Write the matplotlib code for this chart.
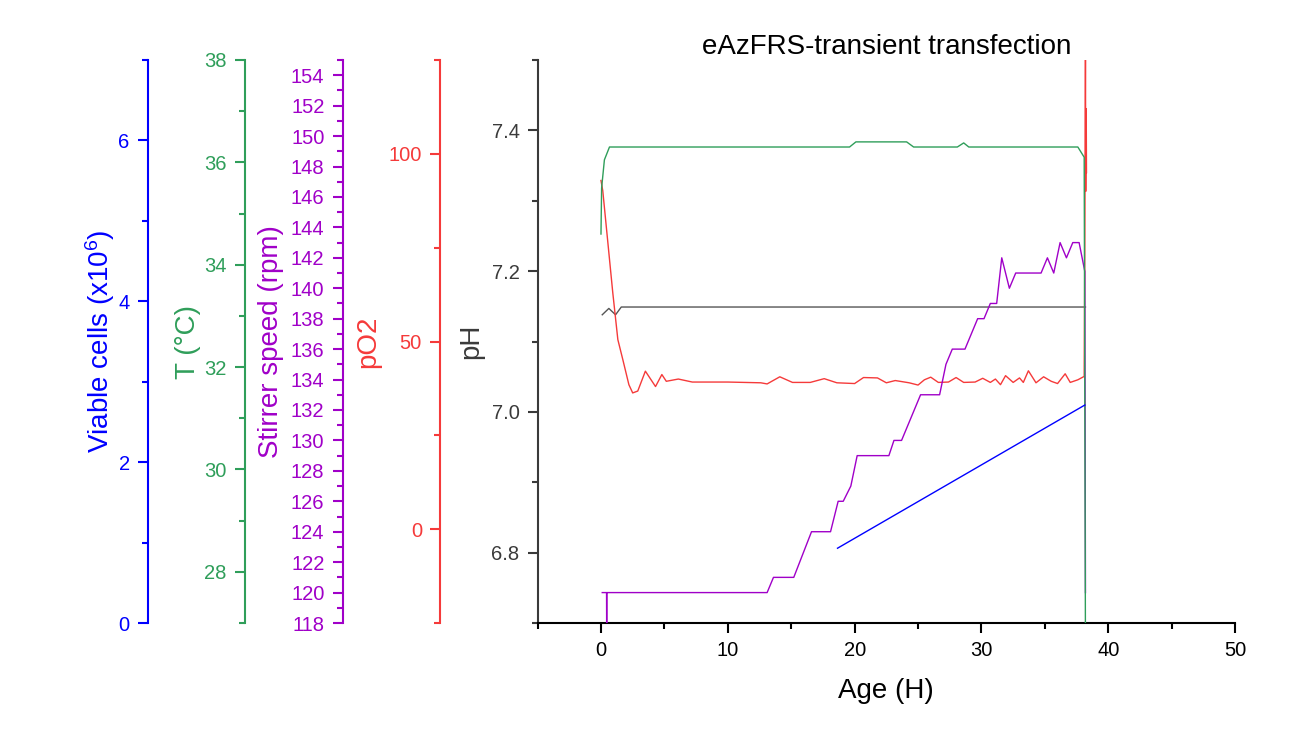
import matplotlib
matplotlib.use("Agg")
import matplotlib.pyplot as plt
from matplotlib.ticker import MultipleLocator

plt.rcParams['font.family'] = ['Liberation Sans', 'DejaVu Sans']
plt.rcParams['mathtext.fontset'] = 'custom'
plt.rcParams['mathtext.rm'] = 'Liberation Sans'
plt.rcParams['mathtext.default'] = 'regular'

# pH (main axis)
ph_time = [0.1, 0.62, 1.15, 1.6, 38.2]
ph_vals = [7.138, 7.147, 7.138, 7.149, 7.149]

# pO2
o2_time = [0.0, 0.14, 0.93, 1.33, 1.72, 2.2, 2.5, 2.9, 3.5, 4.3, 4.8, 5.15, 6.1, 7.2,
           10.0, 12.6, 13.1, 14.1, 15.1, 16.5, 17.6, 18.6, 20.0, 20.7, 21.8, 22.5,
           23.2, 24.3, 25.0, 25.5, 26.0, 26.6, 27.4, 28.0, 28.6, 29.5, 30.1, 30.7,
           31.1, 31.5, 31.9, 32.5, 33.0, 33.3, 33.7, 34.3, 34.9, 35.5, 36.0, 36.6,
           37.0, 37.6, 38.1, 38.15, 38.2, 38.22, 38.26, 38.28]
o2_vals = [92.9, 90.2, 63.0, 50.5, 45.2, 38.5, 36.3, 36.8, 42.1, 38.0, 41.2, 39.4, 40.0, 39.2,
           39.2, 39.0, 38.7, 40.6, 39.1, 39.1, 40.1, 39.0, 38.8, 40.4, 40.3, 39.0,
           39.6, 39.0, 38.4, 39.8, 40.5, 39.1, 39.2, 40.4, 39.1, 39.2, 40.2, 39.1,
           40.0, 38.5, 40.9, 39.1, 40.3, 39.1, 42.2, 39.0, 40.6, 39.4, 38.8, 41.4,
           39.1, 39.8, 40.7, 75.0, 128.0, 90.0, 112.0, 95.0]

# stirrer speed (rpm)
st_time = [0.1, 0.44, 0.45, 0.46, 13.1, 13.6, 15.2, 16.6, 18.1, 18.7, 19.1, 19.7, 20.2,
           22.7, 23.1, 23.7, 25.2, 26.7, 27.2, 27.7, 28.7, 29.7, 30.2, 30.7, 31.2,
           31.6, 32.2, 32.7, 34.7, 35.2, 35.7, 36.2, 36.7, 37.2, 37.7, 38.15, 38.2]
st_vals = [120, 120, 117, 120, 120, 121, 121, 124, 124, 126, 126, 127, 129,
           129, 130, 130, 133, 133, 135, 136, 136, 138, 138, 139, 139,
           142, 140, 141, 141, 142, 141, 143, 142, 143, 143, 141.1, 120]

# temperature (°C)
t_time = [0.0, 0.05, 0.27, 0.67, 19.6, 20.1, 24.1, 24.65, 28.1, 28.6, 29.0, 37.6, 38.1, 38.2]
t_vals = [34.6, 35.5, 36.05, 36.3, 36.3, 36.4, 36.4, 36.3, 36.3, 36.38, 36.3, 36.3, 36.1, 26.5]

# viable cells (x10^6)
cells_time = [18.65, 38.15]
cells_vals = [0.93, 2.71]

GRAY = '#3a3a3a'
RED = '#f53a3a'
PURPLE = '#a000c8'
GREEN = '#2f9e5a'
BLUE = '#0000ff'

fig = plt.figure(figsize=(13.07, 7.49), dpi=100)
ax = fig.add_axes([0.4113, 0.1682, 0.5337, 0.7517])
ax.set_xlim(-5, 50)
ax.set_ylim(6.7, 7.5)
for s in ('top', 'right'):
    ax.spines[s].set_visible(False)
ax.spines['bottom'].set_linewidth(1.5)
ax.spines['left'].set_linewidth(1.5)
ax.spines['left'].set_color(GRAY)
ax.xaxis.set_major_locator(MultipleLocator(10))
ax.xaxis.set_minor_locator(MultipleLocator(5))
ax.yaxis.set_major_locator(MultipleLocator(0.2))
ax.yaxis.set_minor_locator(MultipleLocator(0.1))
ax.tick_params(which='major', length=7, width=1.5, labelsize=14.5, pad=6)
ax.tick_params(which='minor', length=4, width=1.5)
ax.tick_params(axis='y', which='both', colors=GRAY)
ax.set_xlabel('Age (H)', fontsize=20, labelpad=13)
ax.set_ylabel('pH', fontsize=20, color=GRAY, labelpad=5)
ax.set_title('eAzFRS-transient transfection', fontsize=20, y=1.0, pad=4)
ax.plot(ph_time, ph_vals, color='#555555', lw=1)


def side_axis(pos, color, lim, major, minor, label, pad=5):
    a = ax.twinx()
    a.set_ylim(*lim)
    for s in ('top', 'right', 'bottom'):
        a.spines[s].set_visible(False)
    a.spines['left'].set_visible(True)
    a.spines['left'].set_position(('axes', pos))
    a.spines['left'].set_color(color)
    a.spines['left'].set_linewidth(1.5)
    a.yaxis.set_ticks_position('left')
    a.yaxis.set_label_position('left')
    a.yaxis.set_major_locator(MultipleLocator(major))
    a.yaxis.set_minor_locator(MultipleLocator(minor))
    a.tick_params(which='major', length=7, width=1.5, labelsize=14.5, pad=6, colors=color)
    a.tick_params(which='minor', length=4, width=1.5, colors=color)
    a.set_ylabel(label, fontsize=20, color=color, labelpad=pad)
    return a


ax_o2 = side_axis(-0.1398, RED, (-25, 125), 50, 25, 'pO2')
ax_st = side_axis(-0.2796, PURPLE, (118, 155), 2, 1, 'Stirrer speed (rpm)')
ax_t = side_axis(-0.4201, GREEN, (27, 38), 2, 1, 'T (°C)', pad=2)
ax_c = side_axis(-0.5589, BLUE, (0, 7), 2, 1, 'Viable cells (x10$^{6}$)', pad=1)

ax_c.plot(cells_time, cells_vals, color=BLUE, lw=1)
ax_t.plot(t_time, t_vals, color=GREEN, lw=1)
ax_st.plot(st_time, st_vals, color=PURPLE, lw=1)
ax_o2.plot(o2_time, o2_vals, color=RED, lw=1)

fig.savefig('out.png', dpi=100)
